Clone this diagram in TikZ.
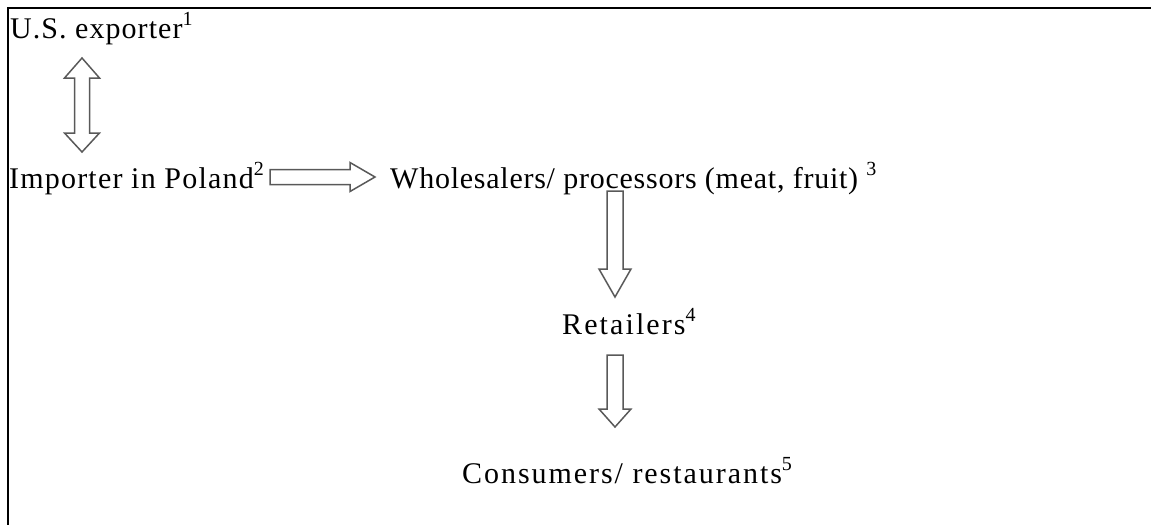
\documentclass[tikz,border=0pt]{standalone}
\usepackage{fontspec}
\setmainfont{Liberation Serif}
\usetikzlibrary{positioning}

\newcommand{\notemark}[1]{\raisebox{13pt}{\fontsize{20}{20}\selectfont\addfontfeatures{LetterSpace=0}#1}}

\tikzset{
  stage/.style={anchor=base west, inner sep=0pt,
    font=\fontsize{30}{34}\selectfont\addfontfeatures{LetterSpace=#1}},
  stage/.default=5,
  blockarrow/.style={draw=black!65, line width=1.5pt, fill=white, line join=miter},
}

\begin{document}
\begin{tikzpicture}[x=1pt, y=-1pt]
\useasboundingbox (0,0) rectangle (1151,525);
% frame
\draw[line width=2pt] (1151,8) -- (8,8) -- (8,525);

% stages of the chain
\node[stage=3.5] (exporter) at (10,38) {U.S. exporter\notemark{1}};
\node[stage=4] (importer) at (9,188) {Importer in Poland\notemark{2}};
\node[stage=2.5] (wholesale) at (390,188) {Wholesalers/ processors (meat, fruit) \notemark{3}};
\node[stage=7] (retail) at (562,334) {Retailers\notemark{4}};
\node[stage=6.5] (consumer) at (462,483) {Consumers/ restaurants\notemark{5}};

% block arrows
\coordinate (up) at (82,58);
\draw[blockarrow] (up) -- ++(17.5,20) -- ++(-10,0) -- ++(0,55) -- ++(10,0)
    -- ++(-17.5,19) -- ++(-17.5,-19) -- ++(10,0) -- ++(0,-55) -- ++(-10,0) -- cycle;
\coordinate (right) at (375,177);
\draw[blockarrow] (right) -- ++(-25,-14.5) -- ++(0,7) -- ++(-80,0) -- ++(0,15)
    -- ++(80,0) -- ++(0,7) -- cycle;
\coordinate (down1) at (615,297);
\draw[blockarrow] (down1) -- ++(16,-28) -- ++(-8,0) -- ++(0,-78) -- ++(-16,0)
    -- ++(0,78) -- ++(-8,0) -- cycle;
\coordinate (down2) at (615,427);
\draw[blockarrow] (down2) -- ++(16,-18) -- ++(-8,0) -- ++(0,-54) -- ++(-16,0)
    -- ++(0,54) -- ++(-8,0) -- cycle;
\end{tikzpicture}
\end{document}
